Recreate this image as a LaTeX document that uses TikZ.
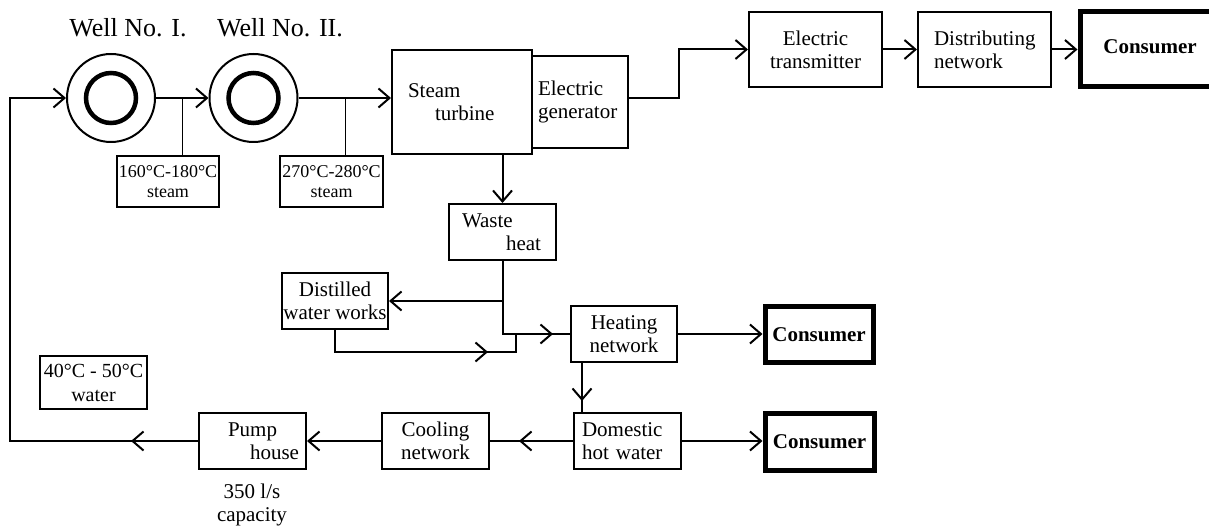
\documentclass[tikz,border=0pt]{standalone}
\usepackage{fontspec}
\setmainfont{Liberation Serif}
\usetikzlibrary{arrows.meta,decorations.markings}
\newcommand\fmain{\fontsize{21pt}{23pt}\selectfont}
\newcommand\fbig{\fontsize{26pt}{30pt}\selectfont}
\newcommand\fsteam{\fontsize{18pt}{20pt}\selectfont}
\newcommand\fwater{\fontsize{20pt}{24pt}\selectfont}
\begin{document}
\begin{tikzpicture}[x=1pt,y=-1pt,
  >={Straight Barb[length=11pt,width=19pt,line width=2pt]},
  conn/.style={line width=2pt,->},
  plain/.style={line width=2pt},
  box/.style={draw,line width=2pt,inner sep=0pt,font=\fmain,align=center},
  lbox/.style={draw,line width=2pt,inner sep=0pt,font=\fmain,align=left},
  cons/.style={draw,line width=5pt,inner sep=0pt,font=\fmain\bfseries,align=center},
  well/.style={circle,draw,line width=2pt,minimum size=88pt,inner sep=0pt},
  midarr/.style={postaction={decorate},decoration={markings,mark=at position #1 with {\arrow{>}}}},
]
\useasboundingbox (0,0) rectangle (1209,526);

% wells
\node[well] (w1) at (111,98) {};
\node[well] (w2) at (253.5,98) {};
\draw[line width=4.5pt] (w1.center) circle[radius=25pt];
\draw[line width=4.5pt] (w2.center) circle[radius=25pt];
\node[font=\fbig] (lw1) at (128,28) {Well No. I.};
\node[font=\fbig] (lw2) at (280,28) {Well No. II.};

% steam boxes
\node[box,font=\fsteam,minimum width=102pt,minimum height=51pt] (s1) at (168,181.5) {160°C-180°C\\steam};
\node[box,font=\fsteam,minimum width=103pt,minimum height=51pt] (s2) at (331.5,181.5) {270°C-280°C\\steam};
\node[box,font=\fwater,minimum width=107pt,minimum height=53pt] (wat) at (93.5,382.5) {40°C - 50°C\\water};

% turbine and generator
\node[lbox,text width=140pt,minimum height=104pt] (turb) at (462,102) {\hspace*{16pt}Steam\\\hspace*{43pt}turbine};
\node[lbox,text width=96pt,minimum height=92pt] (gen) at (580,102) {\hspace*{6pt}Electric\\\hspace*{6pt}generator};

% electric chain
\node[box,minimum width=133pt,minimum height=75pt] (trans) at (815.5,49.5) {Electric\\transmitter};
\node[lbox,text width=133pt,minimum height=75pt] (distr) at (984.5,49.5) {\hspace*{16pt}Distributing\\\hspace*{16pt}network};
\node[cons,minimum width=140pt,minimum height=75pt] (cons1) at (1150,49.5) {\raisebox{6pt}{Consumer}};

% waste heat and branches
\node[lbox,text width=107pt,minimum height=56pt] (wh) at (502.5,232) {\hspace*{13pt}Waste\\\hspace*{57pt}heat};
\node[box,minimum width=106pt,minimum height=56pt] (dist) at (335,301) {Distilled\\water works};
\node[box,minimum width=106pt,minimum height=56pt] (heat) at (624,334) {Heating\\network};
\node[cons,minimum width=108pt,minimum height=55pt] (cons2) at (819,334.5) {Consumer};

% bottom row
\node[lbox,text width=107pt,minimum height=56pt] (dom) at (627.5,441) {\hspace*{8pt}Domestic\\\hspace*{8pt}hot water};
\node[cons,minimum width=109pt,minimum height=57pt] (cons3) at (819.5,441.5) {Consumer};
\node[box,minimum width=107pt,minimum height=56pt] (cool) at (435.5,441) {Cooling\\network};
\node[lbox,text width=107pt,minimum height=56pt] (pump) at (252.5,441) {\hspace*{29pt}Pump\\\hspace*{51pt}house};
\node[font=\fmain,align=center] (cap) at (252,505) {350 l/s\\capacity};

% coordinates
\coordinate (t1) at (182,98);
\coordinate (t2) at (345,98);
\coordinate (c1) at (10,441);
\coordinate (c2) at (10,98);
\coordinate (j2) at (516,334);

% connectors
\draw[conn,midarr=67pt] (pump.west) -- (c1) -- (c2) -- (w1.west);
\draw[conn] (w1.east) -- (w2.west);
\draw[line width=1pt] (t1) -- (t1 |- s1.north);
\draw[conn] (w2.east) -- (turb.west |- w2.east);
\draw[line width=1pt] (t2) -- (t2 |- s2.north);
\draw[conn] (gen.east |- w2.center) -- ++(50,0) |- (trans.west);
\draw[conn] (trans.east) -- (distr.west);
\draw[conn] (distr.east) -- (cons1.west);
\draw[conn] (wh.north |- turb.south) -- (wh.north);
\draw[plain,midarr=123.5pt] (wh.south) -- (wh.south |- heat.west) -- (heat.west);
\draw[conn] (wh.south |- dist.east) -- (dist.east);
\draw[plain,midarr=175pt] (dist.south) -- ++(0,22) -| (j2);
\draw[conn] (heat.east) -- (cons2.west |- heat.east);
\draw[plain,midarr=38pt] ([xshift=-42pt]heat.south) -- ([xshift=-42pt]heat.south |- dom.north);
\draw[conn] (dom.east) -- (cons3.west |- dom.east);
\draw[plain,midarr=54pt] (dom.west) -- (cool.east);
\draw[conn] (cool.west) -- (pump.east);
\end{tikzpicture}
\end{document}
